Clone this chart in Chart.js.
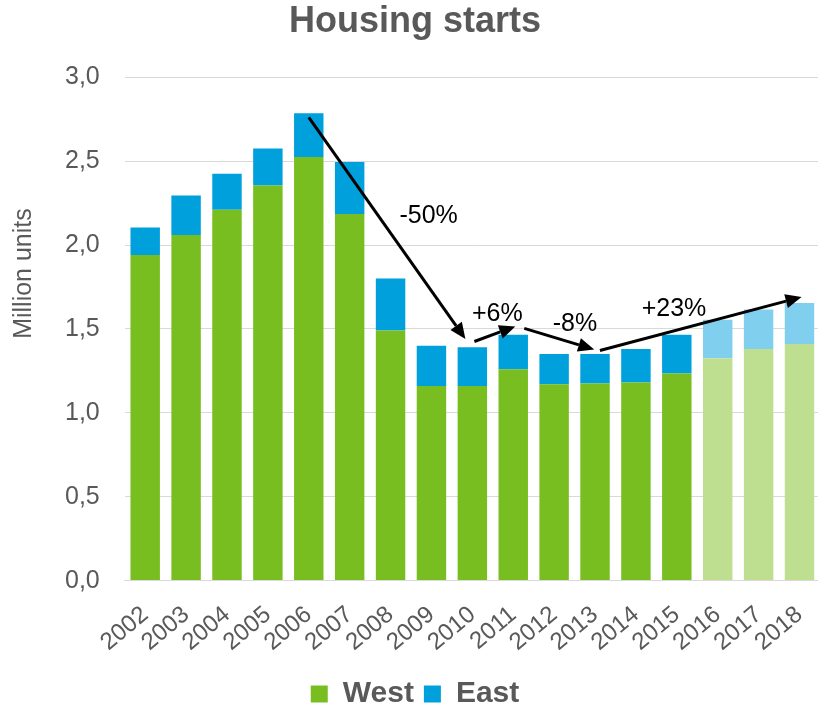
<!DOCTYPE html>
<html><head><meta charset="utf-8">
<script src="https://cdn.jsdelivr.net/npm/chart.js@4/dist/chart.umd.min.js"></script>
<style>html,body{margin:0;padding:0;overflow:hidden;background:#fff}#wrap{width:830px;height:710px;position:relative}</style>
</head><body><div id="wrap"><canvas id="c"></canvas></div>
<script>
const years = ['2002','2003','2004','2005','2006','2007','2008','2009','2010','2011','2012','2013','2014','2015','2016','2017','2018'];
const west = [1.94,2.06,2.21,2.355,2.525,2.185,1.49,1.16,1.16,1.26,1.17,1.175,1.18,1.235,1.325,1.38,1.41];
const east = [0.165,0.235,0.215,0.22,0.26,0.31,0.31,0.24,0.23,0.205,0.18,0.175,0.2,0.23,0.23,0.235,0.245];
const forecastYears = ['2016','2017','2018'];
const yTitle = 'Million units';
const yTitleAt = 1.83; // value level where the axis title is centred
// annotation arrows in data space: [categoryIndex, value]
const arrowFrom = [[4.0,2.76],[8.05,1.425],[9.27,1.503],[11.12,1.371]];
const arrowTo   = [[7.83,1.44],[9.05,1.515],[10.98,1.377],[16.05,1.69]];
const arrowText = ['-50%','+6%','-8%','+23%'];
const textAt    = [[6.93,2.17],[8.61,1.59],[10.51,1.53],[12.93,1.62]];

const GREEN='#78BE20', GREEN_L='#BEDF90', BLUE='#00A0DD', BLUE_L='#80CFEE', GREY='#595959';
const FONT='"Liberation Sans", Arial, sans-serif';
const westColors = years.map(y => forecastYears.includes(y) ? GREEN_L : GREEN);
const eastColors = years.map(y => forecastYears.includes(y) ? BLUE_L : BLUE);

const arrowPlugin = {
  id:'arrows',
  afterDatasetsDraw(chart){
    const {ctx, scales:{x,y}} = chart;
    ctx.save();
    ctx.strokeStyle='#000'; ctx.fillStyle='#000'; ctx.lineWidth=3; ctx.lineCap='butt';
    for(let i=0;i<arrowFrom.length;i++){
      const x1=x.getPixelForValue(arrowFrom[i][0]), y1=y.getPixelForValue(arrowFrom[i][1]);
      const x2=x.getPixelForValue(arrowTo[i][0]), y2=y.getPixelForValue(arrowTo[i][1]);
      const ang=Math.atan2(y2-y1,x2-x1), L=16, W=7;
      const bx=x2-L*Math.cos(ang), by=y2-L*Math.sin(ang);
      ctx.beginPath(); ctx.moveTo(x1,y1); ctx.lineTo(bx,by); ctx.stroke();
      ctx.beginPath(); ctx.moveTo(x2,y2);
      ctx.lineTo(bx+W*Math.sin(ang), by-W*Math.cos(ang));
      ctx.lineTo(bx-W*Math.sin(ang), by+W*Math.cos(ang));
      ctx.closePath(); ctx.fill();
    }
    ctx.font='25px '+FONT;
    ctx.textAlign='center'; ctx.textBaseline='middle';
    for(let i=0;i<arrowText.length;i++){
      ctx.fillText(arrowText[i], x.getPixelForValue(textAt[i][0]), y.getPixelForValue(textAt[i][1]));
    }
    // y axis title
    ctx.fillStyle=GREY;
    ctx.translate(24, y.getPixelForValue(yTitleAt));
    ctx.rotate(-Math.PI/2);
    ctx.fillText(yTitle, 0, 0);
    ctx.restore();
  }
};

new Chart(document.getElementById('c'), {
  type:'bar',
  data:{labels:years, datasets:[
    {label:'West', data:west, backgroundColor:westColors, borderWidth:0},
    {label:'East', data:east, backgroundColor:eastColors, borderWidth:0}
  ]},
  options:{
    responsive:true, maintainAspectRatio:false, animation:false,
    layout:{padding:{left:0,right:0,top:0,bottom:-9}},
    datasets:{bar:{categoryPercentage:1, barPercentage:0.72}},
    plugins:{
      title:{display:true, text:'Housing starts', color:GREY, font:{family:FONT, size:36, weight:'bold'}, padding:{top:0,bottom:34}},
      legend:{position:'bottom', labels:{
        color:GREY, font:{family:FONT, size:30, weight:'bold'},
        boxWidth:17, boxHeight:17, padding:10,
        generateLabels(chart){ return [
          {text:'West', fillStyle:GREEN, strokeStyle:GREEN, lineWidth:0, datasetIndex:0, fontColor:GREY},
          {text:'East', fillStyle:BLUE, strokeStyle:BLUE, lineWidth:0, datasetIndex:1, fontColor:GREY}
        ];}
      }},
      tooltip:{enabled:false}
    },
    scales:{
      x:{stacked:true, grid:{display:false}, border:{color:'#D9D9D9', width:1},
         ticks:{color:GREY, autoSkip:false, minRotation:40, maxRotation:40, padding:12, font:{family:FONT, size:24}}},
      y:{stacked:true, min:0, max:3, grid:{color:'#D9D9D9', drawTicks:false}, border:{display:false},
         afterFit(scale){ scale.width += 40; },
         ticks:{stepSize:0.5, color:GREY, padding:25, font:{family:FONT, size:25},
                callback:v=>v.toFixed(1).replace('.',',')}}
    }
  },
  plugins:[arrowPlugin]
});
</script></body></html>
